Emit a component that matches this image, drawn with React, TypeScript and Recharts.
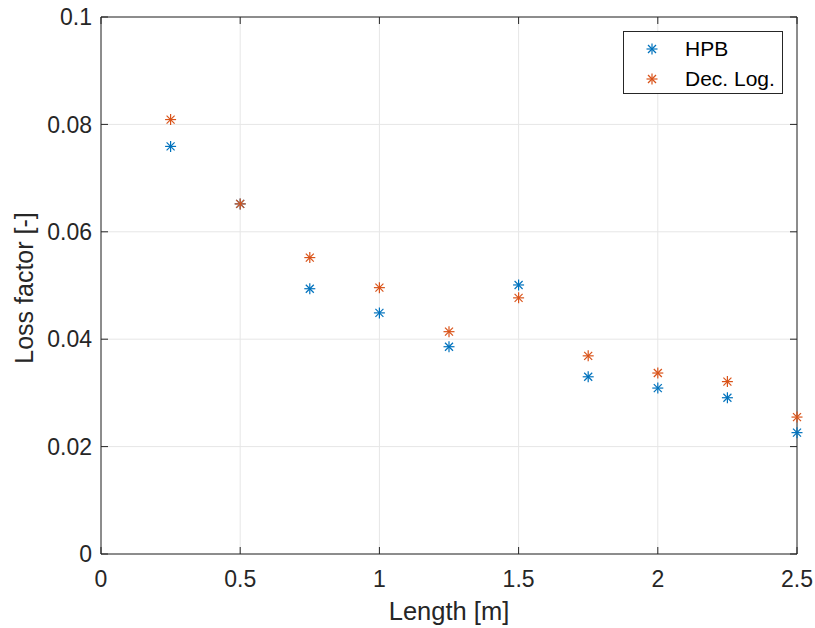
import { ScatterChart, Scatter, XAxis, YAxis, CartesianGrid } from 'recharts';

const lengths = [0.25, 0.5, 0.75, 1.0, 1.25, 1.5, 1.75, 2.0, 2.25, 2.5];
const hpbValues = [0.0759, 0.0652, 0.0494, 0.0449, 0.0386, 0.0501, 0.033, 0.0309, 0.0291, 0.0226];
const decLogValues = [0.0809, 0.0652, 0.0552, 0.0496, 0.0414, 0.0477, 0.0369, 0.0337, 0.0321, 0.0255];
const xTicks = [0, 0.5, 1, 1.5, 2, 2.5];
const yTicks = [0, 0.02, 0.04, 0.06, 0.08, 0.1];

const BLUE = '#0072BD';
const ORANGE = '#D95319';
const TEXT = '#262626';
const FONT = 'Arial, "Liberation Sans", Helvetica, sans-serif';

const hpbData = lengths.map((x, i) => ({ x, y: hpbValues[i] }));
const decLogData = lengths.map((x, i) => ({ x, y: decLogValues[i] }));

// MATLAB style '*' marker
const Asterisk = (props: any) => {
  const { cx, cy, fill } = props;
  const r = 5.5;
  const d = 4;
  return (
    <g stroke={fill} strokeWidth={1.2}>
      <line x1={cx - r} y1={cy} x2={cx + r} y2={cy} />
      <line x1={cx} y1={cy - r} x2={cx} y2={cy + r} />
      <line x1={cx - d} y1={cy - d} x2={cx + d} y2={cy + d} />
      <line x1={cx - d} y1={cy + d} x2={cx + d} y2={cy - d} />
    </g>
  );
};

const Nothing = () => <g />;

const LegendBox = () => (
  <div
    style={{
      position: 'absolute',
      left: 623,
      top: 31,
      width: 158,
      height: 61,
      border: '1px solid #262626',
      background: 'white',
      fontFamily: FONT,
      fontSize: 21,
      color: '#000',
    }}
  >
    {[
      { name: 'HPB', color: BLUE, top: 5 },
      { name: 'Dec. Log.', color: ORANGE, top: 35 },
    ].map((e) => (
      <div key={e.name} style={{ position: 'absolute', left: 0, top: e.top, height: 24, display: 'flex', alignItems: 'center' }}>
        <svg width={61} height={24} style={{ display: 'block' }}>
          <Asterisk cx={28} cy={12} fill={e.color} />
        </svg>
        <span>{e.name}</span>
      </div>
    ))}
  </div>
);

const tickStyle = { fontSize: 23, fill: TEXT, fontFamily: FONT };

export default function App() {
  return (
    <div style={{ position: 'absolute', left: 0, top: 0, width: 815, height: 628, background: 'white' }}>
      <ScatterChart width={815} height={628} margin={{ top: 16, right: 17, bottom: 44, left: 0 }}>
        <CartesianGrid xAxisId="b" yAxisId="l" stroke="#e6e6e6" strokeWidth={1} />
        <XAxis
          type="number"
          dataKey="x"
          xAxisId="b"
          domain={[0, 2.5]}
          ticks={xTicks}
          height={30}
          tickSize={-7}
          tickMargin={24}
          stroke={TEXT}
          tick={tickStyle}
          tickFormatter={(v) => String(v)}
          label={{
            content: (p: any) => (
              <text x={p.viewBox.x + p.viewBox.width / 2} y={620} textAnchor="middle" fontSize={25.5} fill={TEXT} fontFamily={FONT}>
                Length [m]
              </text>
            ),
          }}
        />
        <XAxis
          type="number"
          dataKey="x"
          xAxisId="t"
          orientation="top"
          domain={[0, 2.5]}
          ticks={xTicks}
          height={1}
          tickSize={-7}
          stroke={TEXT}
          tickFormatter={() => ''}
        />
        <YAxis
          type="number"
          dataKey="y"
          yAxisId="l"
          domain={[0, 0.1]}
          ticks={yTicks}
          width={101}
          tickSize={-7}
          tickMargin={16}
          stroke={TEXT}
          tick={tickStyle}
          tickFormatter={(v) => String(v)}
          label={{
            content: () => (
              <text x={33} y={288} transform="rotate(-90, 33, 288)" textAnchor="middle" fontSize={25} fill={TEXT} fontFamily={FONT}>
                Loss factor [-]
              </text>
            ),
          }}
        />
        <YAxis
          type="number"
          dataKey="y"
          yAxisId="r"
          orientation="right"
          domain={[0, 0.1]}
          ticks={yTicks}
          width={1}
          tickSize={-7}
          stroke={TEXT}
          tickFormatter={() => ''}
        />
        <Scatter name="HPB" data={hpbData} xAxisId="b" yAxisId="l" fill={BLUE} shape={<Asterisk />} isAnimationActive={false} />
        <Scatter name="Dec. Log." data={decLogData} xAxisId="b" yAxisId="l" fill={ORANGE} shape={<Asterisk />} isAnimationActive={false} />
        <Scatter data={hpbData} xAxisId="t" yAxisId="r" shape={<Nothing />} legendType="none" isAnimationActive={false} />
      </ScatterChart>
      <LegendBox />
    </div>
  );
}
